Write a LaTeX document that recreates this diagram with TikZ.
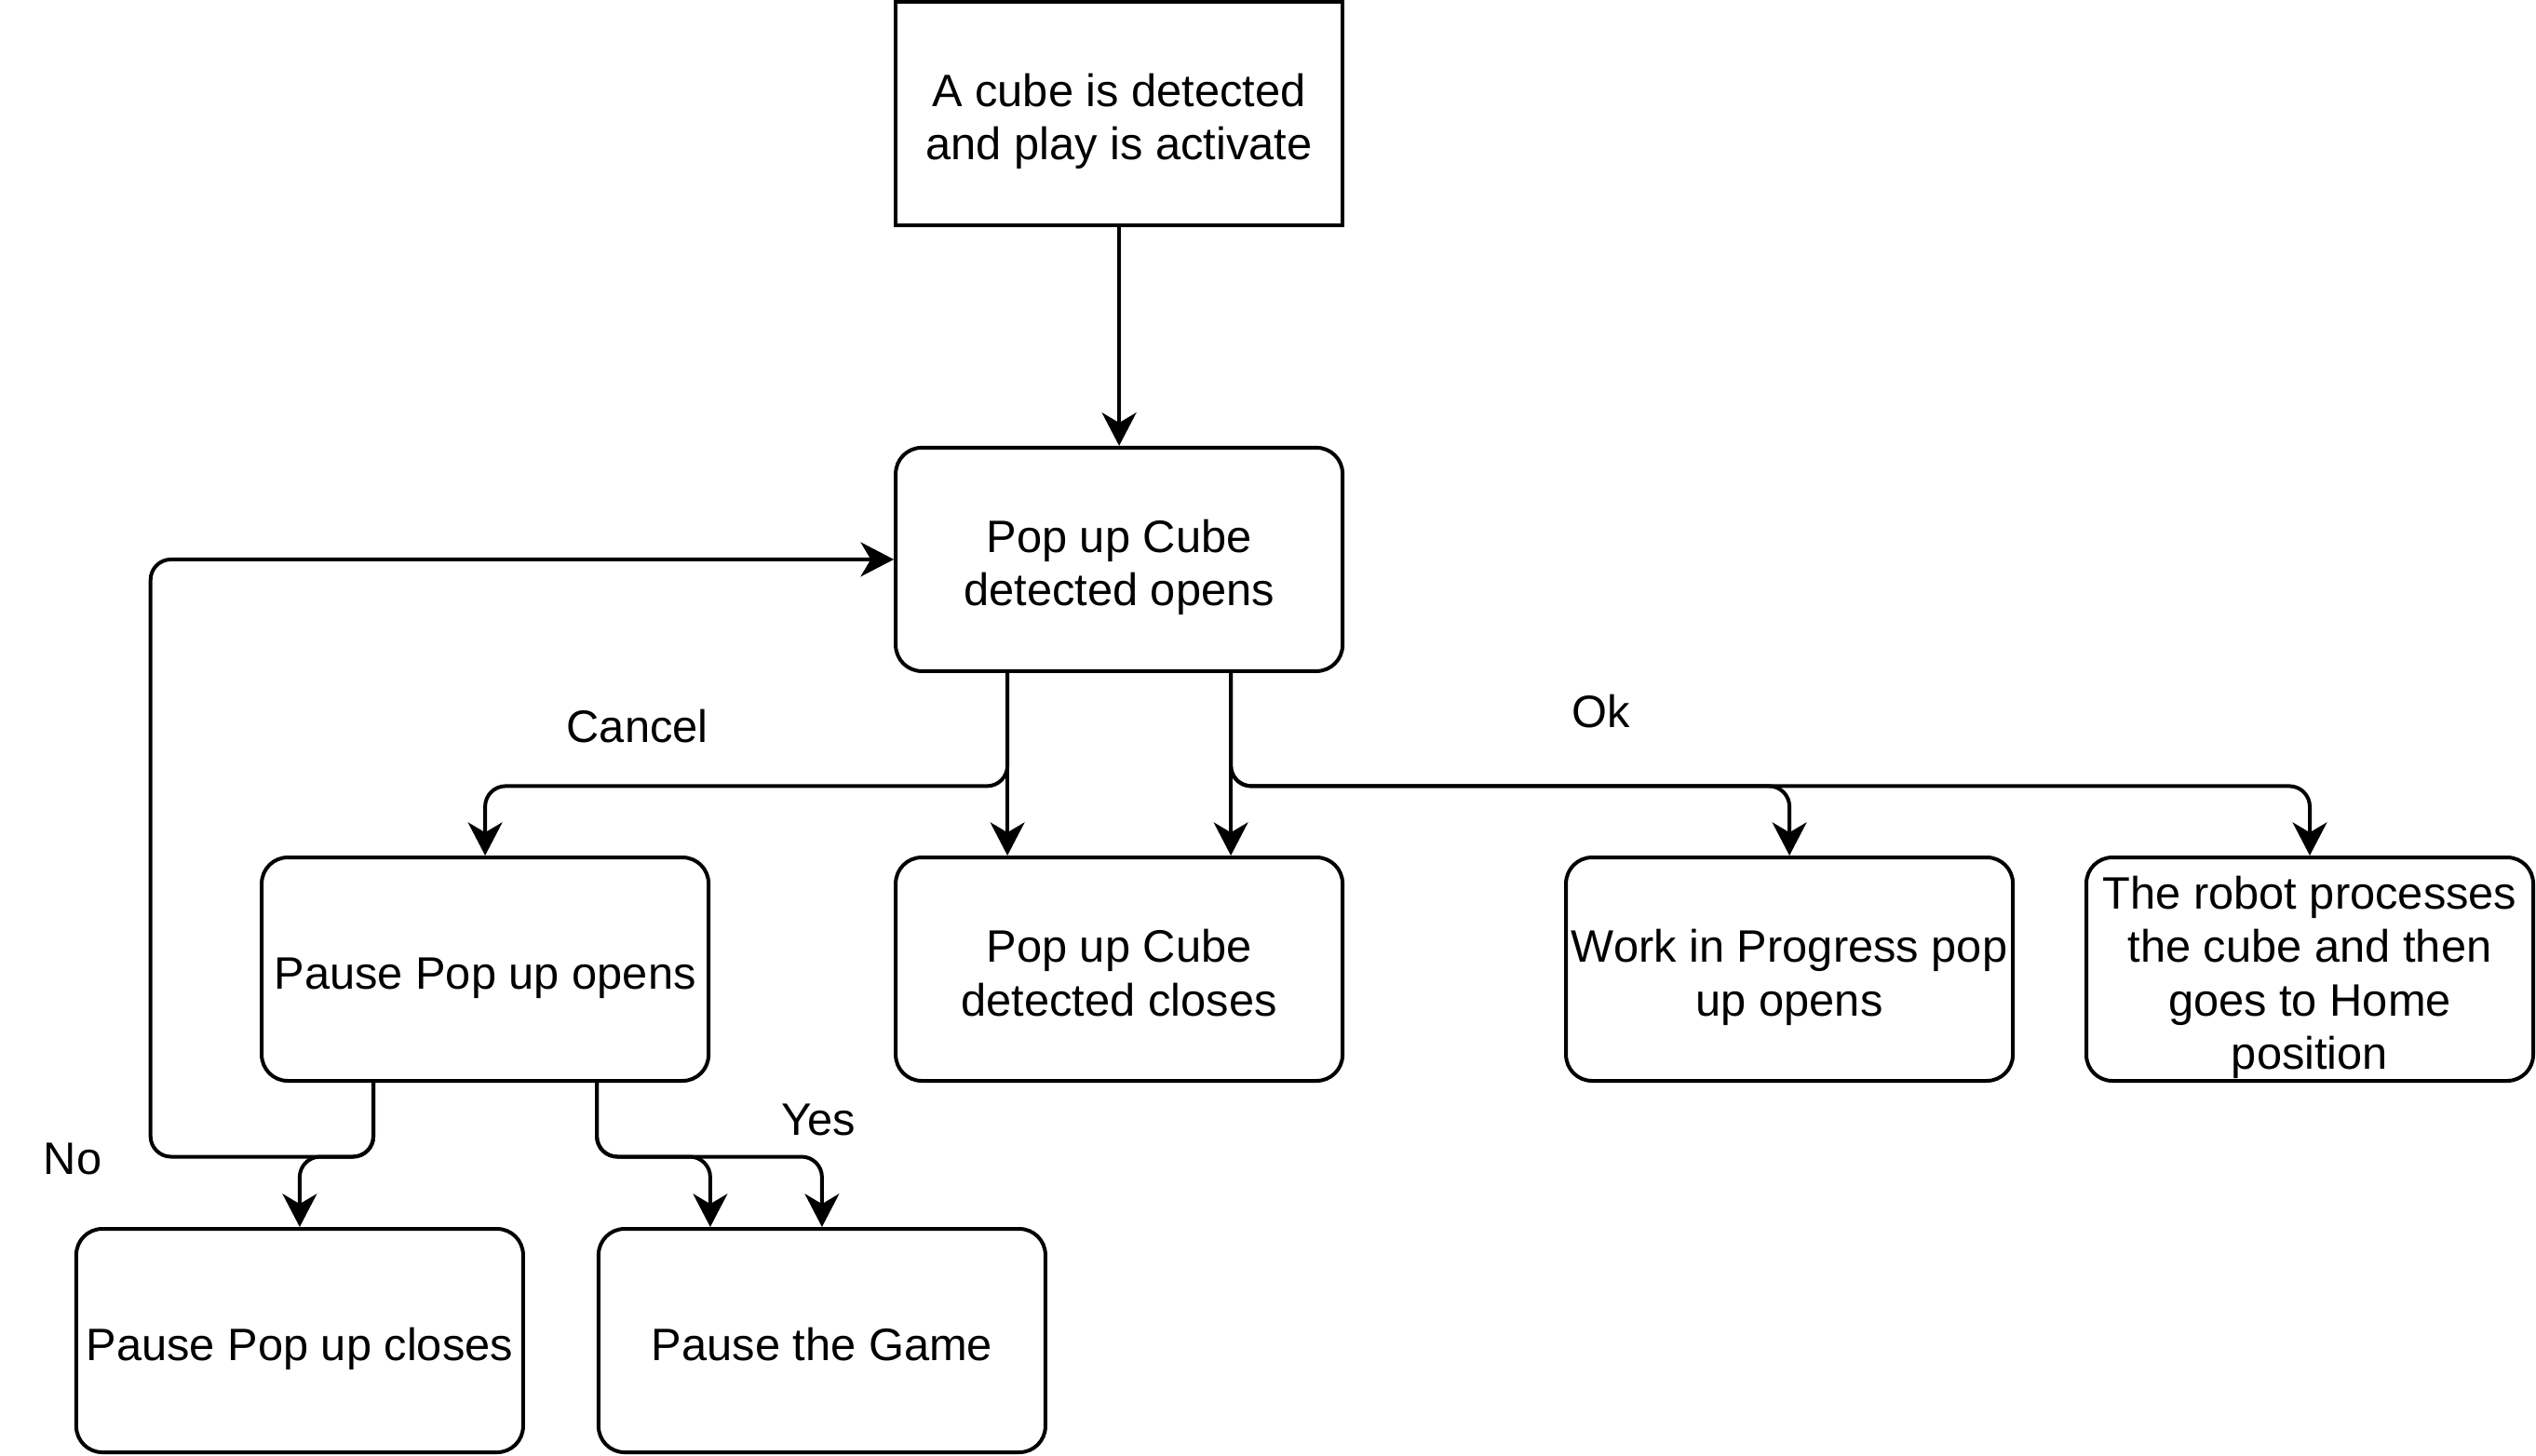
\documentclass[tikz,border=0pt]{standalone}
\usepackage{fontspec}
\setmainfont{Liberation Sans}
\usetikzlibrary{arrows.meta,calc}
\newcommand{\boxstrut}{\rule{0pt}{13.3pt}}
\newcommand{\boxdepth}{\rule[-2.6pt]{0pt}{2.6pt}}
\begin{document}
\begin{tikzpicture}[x=0.75pt,y=-0.75pt,
  box/.style={draw,line width=1pt,minimum width=120pt,minimum height=60pt,inner sep=0.5pt,align=center,
    font=\fontsize{12.2pt}{14.3pt}\selectfont},
  rbox/.style={box,rounded corners=7pt},
  arr/.style={line width=1pt,-{Stealth[length=8.9pt,width=9.2pt,inset=2.7pt]},rounded corners=5.5pt},
  lbl/.style={font=\fontsize{12.2pt}{14.3pt}\selectfont,inner sep=0pt}]
\useasboundingbox (0,0) rectangle (908,521.33);
\node[box]  (top)   at (400.7,40.5)  {\boxstrut A cube is detected\\and play is activate\boxdepth};
\node[rbox] (opens) at (400.7,200.3) {\boxstrut Pop up Cube\\detected opens\boxdepth};
\node[rbox] (popen) at (173.7,347)   {\boxstrut Pause Pop up opens\boxdepth};
\node[rbox] (close) at (400.7,347)   {\boxstrut Pop up Cube\\detected closes\boxdepth};
\node[rbox] (work)  at (640.7,347)   {\boxstrut Work in Progress pop\\up opens\boxdepth};
\node[rbox] (robot) at (827,347)     {\boxstrut The robot processes\\the cube and then\\goes to Home\\position\boxdepth};
\node[rbox] (pclose) at (107.3,480)  {\boxstrut Pause Pop up closes\boxdepth};
\node[rbox] (game)  at (294.3,480)   {\boxstrut Pause the Game\boxdepth};

\coordinate (ob1) at ($(opens.south)+(-40,0)$);
\coordinate (ob2) at ($(opens.south)+(40,0)$);
\coordinate (pb1) at ($(popen.south)+(-40,0)$);
\coordinate (pb2) at ($(popen.south)+(40,0)$);
\coordinate (pm) at ($(pb1)+(0,26.5)$);
\coordinate (gl) at ($(game.north)+(-40,0)$);
\coordinate (loopx) at (53.9,0);

\draw[arr] (top) -- (opens);
\draw[arr] (ob1) -- ++(0,40.5) -| (popen.north);
\draw[arr] (ob1) -- (ob1 |- close.north);
\draw[arr] (ob2) -- (ob2 |- close.north);
\draw[arr] (ob2) -- ++(0,40.5) -| (work.north);
\draw[arr] (ob2) -- ++(0,40.5) -| (robot.north);
\draw[arr] (pb1) -- (pm) -| (pclose.north);
\draw[arr] (pb1) -- (pm) -- (pm -| loopx) |- (opens.west);
\draw[arr] (pb2) -- ++(0,26.5) -| (gl);
\draw[arr] (pb2) -- ++(0,26.5) -| (game.north);

\node[lbl] (lcancel) at (228.2,260) {Cancel};
\node[lbl] (lok) at (573.3,254.6) {Ok};
\node[lbl] (lno) at (26,415) {No};
\node[lbl] (lyes) at (293,401) {Yes};
\end{tikzpicture}
\end{document}
